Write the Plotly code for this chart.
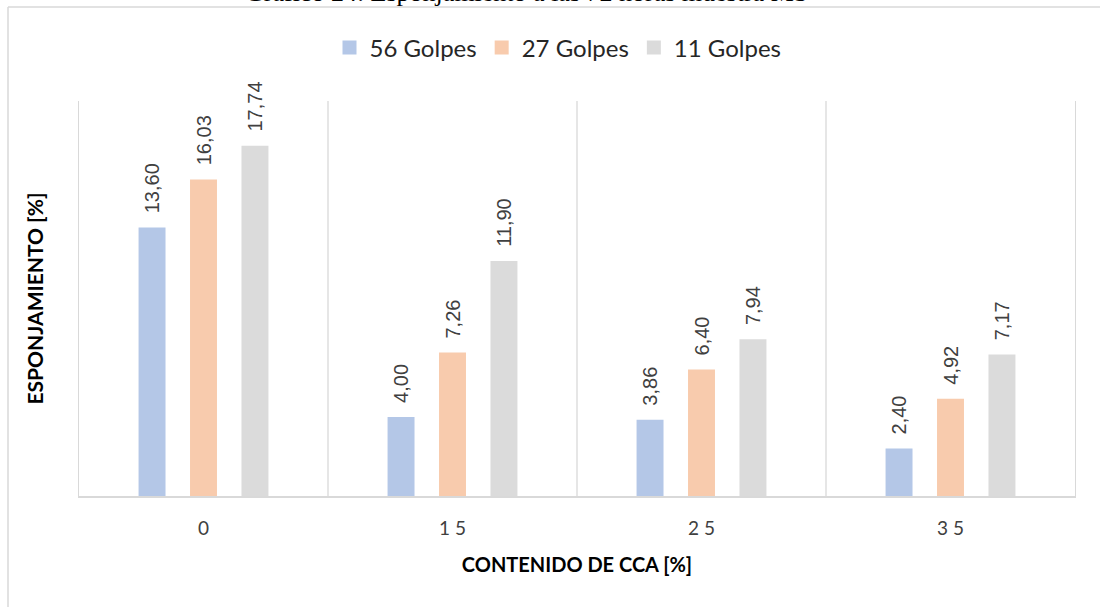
import plotly.graph_objects as go

# Swelling (%) after 72 h for each CCA content and compaction energy
categories = ["0", "15", "25", "35"]
tick_text = ["0", "1 5", "2 5", "3 5"]
golpes_56 = [13.60, 4.00, 3.86, 2.40]
golpes_27 = [16.03, 7.26, 6.40, 4.92]
golpes_11 = [17.74, 11.90, 7.94, 7.17]

series = [
    ("56 Golpes", golpes_56, "#B4C7E7"),
    ("27 Golpes", golpes_27, "#F8CBAD"),
    ("11 Golpes", golpes_11, "#DBDBDB"),
]

W, H = 1100, 607
L, R, T, B = 79, 25, 101, 111
GRID = "#D9D9D9"

x_pos = list(range(len(categories)))

fig = go.Figure()
for name, vals, color in series:
    fig.add_trace(go.Bar(
        x=x_pos, y=vals, name=name, showlegend=False,
        marker=dict(color=color, line=dict(width=0)),
        # leading no-break spaces lift the rotated label off the bar top
        texttemplate="\u00a0\u00a0%{y:.2f}",
        textposition="outside",
        textangle=-90,
        constraintext="none",
        cliponaxis=False,
        textfont=dict(family="Liberation Sans, Arial", size=20, color="#404040"),
    ))

# legend entries with square swatches
for name, vals, color in series:
    fig.add_trace(go.Scatter(
        x=[None], y=[None], name=name, mode="markers",
        marker=dict(symbol="square", size=14, color=color),
    ))

# separators between category groups
shapes = [
    dict(type="line", xref="x", yref="paper", x0=i + 0.5, x1=i + 0.5, y0=0, y1=1,
         line=dict(color=GRID, width=1.3))
    for i in range(len(categories) - 1)
]

# outer frame (left and top edges)
px2x = lambda px: (px - L) / (W - L - R)
px2y = lambda py: (H - B - py) / (H - T - B)
shapes.append(dict(type="line", xref="paper", yref="paper",
                   x0=px2x(8), x1=px2x(8), y0=px2y(7), y1=px2y(H),
                   line=dict(color=GRID, width=1.5)))
shapes.append(dict(type="line", xref="paper", yref="paper",
                   x0=px2x(8), x1=px2x(W), y0=px2y(7), y1=px2y(7),
                   line=dict(color=GRID, width=1.5)))

fig.update_layout(
    width=W, height=H,
    margin=dict(l=L, r=R, t=T, b=B),
    paper_bgcolor="white", plot_bgcolor="white",
    separators=",.",
    barmode="group",
    bargap=0.38,
    bargroupgap=0.476,
    shapes=shapes,
    legend=dict(
        orientation="h", x=px2x(558), xanchor="center",
        y=px2y(48), yanchor="middle",
        font=dict(family="Lato", size=24, color="#262626"),
        itemclick=False,
    ),
    annotations=[
        dict(text="Gráfico 24: Esponjamiento a las 72 horas muestra MS",
             xref="paper", yref="paper", x=px2x(526), y=px2y(-8),
             xanchor="center", yanchor="middle", showarrow=False,
             font=dict(family="Liberation Serif, Times New Roman", size=26, color="#000000")),
    ],
    xaxis=dict(
        tickmode="array", tickvals=x_pos, ticktext=tick_text,
        range=[-0.5, len(categories) - 0.5],
        showgrid=False, zeroline=False,
        showline=True, linecolor=GRID, linewidth=1.5,
        ticks="", ticklabelstandoff=14,
        tickfont=dict(family="Lato", size=19, color="#404040"),
        title=dict(text="<b>CONTENIDO DE CCA [%]</b>", standoff=20,
                   font=dict(family="Lato", size=20, color="#000000")),
    ),
    yaxis=dict(
        range=[0, 20], showgrid=False, zeroline=False,
        showticklabels=False, ticks="",
        showline=True, mirror=True, linecolor=GRID, linewidth=1.3,
        title=dict(text="<b>ESPONJAMIENTO [%]</b>", standoff=28,
                   font=dict(family="Lato", size=21, color="#000000")),
    ),
)

fig.write_html("out.html")
